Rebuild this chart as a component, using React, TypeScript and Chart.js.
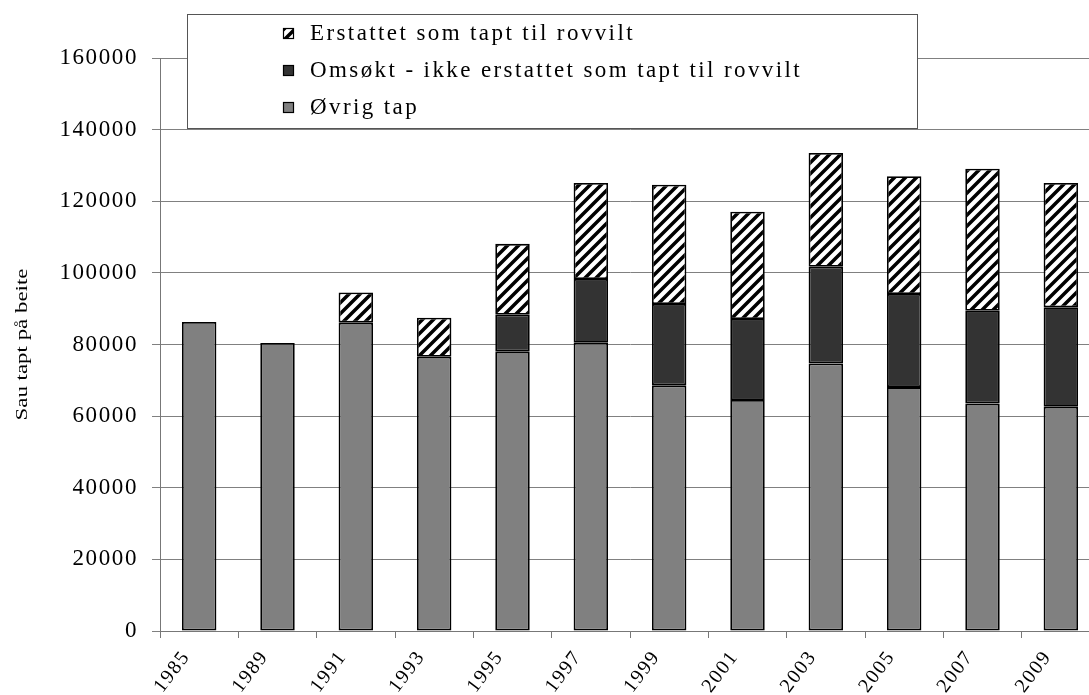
import React, { useEffect, useRef } from "react";
import { Chart, registerables } from "chart.js";

Chart.register(...registerables);

const years = ["1985", "1989", "1991", "1993", "1995", "1997", "1999", "2001", "2003", "2005", "2007", "2009"];
const ovrigTap = [86300, 80400, 86100, 76600, 78000, 80500, 68600, 64500, 74700, 68100, 63500, 62600];
const omsoktIkkeErstattet = [null, null, null, null, 10300, 17800, 22700, 22600, 27000, 26000, 25900, 27800];
const erstattetRovvilt = [null, null, 8400, 10900, 19800, 26800, 33300, 30000, 31800, 32900, 39700, 34700];
const yTicks = [0, 20000, 40000, 60000, 80000, 100000, 120000, 140000, 160000];
const seriesLabels = [
  "Øvrig tap",
  "Omsøkt - ikke erstattet som tapt til rovvilt",
  "Erstattet som tapt til rovvilt",
];
const yTitle = "Sau tapt på beite";

const FONT = "'Liberation Serif', 'Times New Roman', serif";

function makeHatch(ctx: CanvasRenderingContext2D): CanvasPattern | string {
  const size = 11;
  const c = document.createElement("canvas");
  c.width = size;
  c.height = size;
  const g = c.getContext("2d");
  if (!g) return "#fff";
  g.fillStyle = "#fff";
  g.fillRect(0, 0, size, size);
  g.strokeStyle = "#000";
  g.lineWidth = 3.5;
  g.beginPath();
  g.moveTo(-3, size + 3);
  g.lineTo(size + 3, -3);
  g.moveTo(-3, 3);
  g.lineTo(3, -3);
  g.moveTo(size - 3, size + 3);
  g.lineTo(size + 3, size - 3);
  g.stroke();
  return ctx.createPattern(c, "repeat") || "#fff";
}

const spacingPlugin = {
  id: "textSpacing",
  beforeUpdate(chart: any) {
    (chart.ctx as any).letterSpacing = "1.6px";
  },
  beforeDraw(chart: any) {
    (chart.ctx as any).letterSpacing = "1.6px";
  },
};

const legendBoxPlugin = {
  id: "legendBox",
  afterDraw(chart: any) {
    const ctx: CanvasRenderingContext2D = chart.ctx;
    const a = chart.chartArea;
    // y-axis title
    ctx.save();
    ctx.font = `16px ${FONT}`;
    (ctx as any).letterSpacing = "0px";
    ctx.fillStyle = "#000";
    ctx.textAlign = "center";
    ctx.textBaseline = "middle";
    const tw = ctx.measureText(yTitle).width;
    const targetLen = 152;
    ctx.translate(15, (a.top + a.bottom) / 2);
    ctx.rotate(-Math.PI / 2);
    ctx.scale(targetLen / tw, 1);
    ctx.fillText(yTitle, 0, 0);
    ctx.restore();

    // legend box
    const bx = a.left + 27;
    const by = a.top - 44;
    const bw = 730;
    const bh = 114;
    ctx.save();
    ctx.fillStyle = "#fff";
    ctx.fillRect(bx, by, bw, bh);
    ctx.strokeStyle = "#555";
    ctx.lineWidth = 1;
    ctx.strokeRect(bx + 0.5, by + 0.5, bw, bh);
    const order = [2, 1, 0];
    const rowY = [19, 56, 93];
    ctx.font = `23px ${FONT}`;
    (ctx as any).letterSpacing = "2.4px";
    ctx.textBaseline = "middle";
    ctx.textAlign = "left";
    order.forEach((di, i) => {
      const ds = chart.data.datasets[di];
      const cy = by + rowY[i];
      const mx = a.left + 123;
      ctx.fillStyle = ds.backgroundColor;
      ctx.fillRect(mx, cy - 5, 10, 10);
      ctx.strokeStyle = "#000";
      ctx.lineWidth = 1.2;
      ctx.strokeRect(mx + 0.5, cy - 5 + 0.5, 10, 10);
      ctx.fillStyle = "#000";
      ctx.fillText(ds.label, a.left + 150, cy + 1);
    });
    ctx.restore();
  },
};

export default function App() {
  const ref = useRef<HTMLCanvasElement>(null);
  useEffect(() => {
    const canvas = ref.current;
    if (!canvas) return;
    const ctx = canvas.getContext("2d");
    if (!ctx) return;
    const hatch = makeHatch(ctx);
    const common = { borderColor: "#000", borderWidth: 1.8, borderSkipped: false as const };
    const chart = new Chart(ctx, {
      type: "bar",
      data: {
        labels: years,
        datasets: [
          { label: seriesLabels[0], data: ovrigTap, backgroundColor: "#808080", ...common },
          { label: seriesLabels[1], data: omsoktIkkeErstattet as any, backgroundColor: "#333333", ...common },
          { label: seriesLabels[2], data: erstattetRovvilt as any, backgroundColor: hatch as any, ...common },
        ],
      },
      options: {
        responsive: false,
        animation: false,
        layout: { padding: { top: 50, right: 8, left: 0, bottom: 0 } },
        datasets: { bar: { categoryPercentage: 1, barPercentage: 0.44 } },
        plugins: { legend: { display: false }, tooltip: { enabled: false } },
        scales: {
          x: {
            stacked: true,
            offset: true,
            grid: { offset: true, drawOnChartArea: false, drawTicks: true, tickLength: 7, color: "#777" },
            border: { color: "#777" },
            ticks: {
              autoSkip: false,
              minRotation: 53,
              maxRotation: 53,
              labelOffset: -13,
              padding: 8,
              color: "#000",
              font: { family: FONT, size: 20 },
            },
            afterFit(s: any) {
              s.height = 64;
            },
          },
          y: {
            stacked: true,
            min: 0,
            max: 160000,
            afterBuildTicks(s: any) {
              s.ticks = yTicks.map((v) => ({ value: v }));
            },
            grid: { color: "#808080", tickLength: 8 },
            border: { color: "#777" },
            ticks: {
              padding: 14,
              color: "#000",
              font: { family: FONT, size: 23 },
              callback: (v: any) => String(v),
            },
            title: { display: false },
            afterFit(s: any) {
              s.width = 152;
            },
          },
        },
      },
      plugins: [spacingPlugin, legendBoxPlugin],
    });
    return () => chart.destroy();
  }, []);
  return (
    <div style={{ position: "fixed", left: 8, top: 8, width: 1081, height: 687, overflow: "hidden" }}>
      <canvas ref={ref} width={1100} height={687} style={{ display: "block", width: 1100, height: 687 }} />
    </div>
  );
}
